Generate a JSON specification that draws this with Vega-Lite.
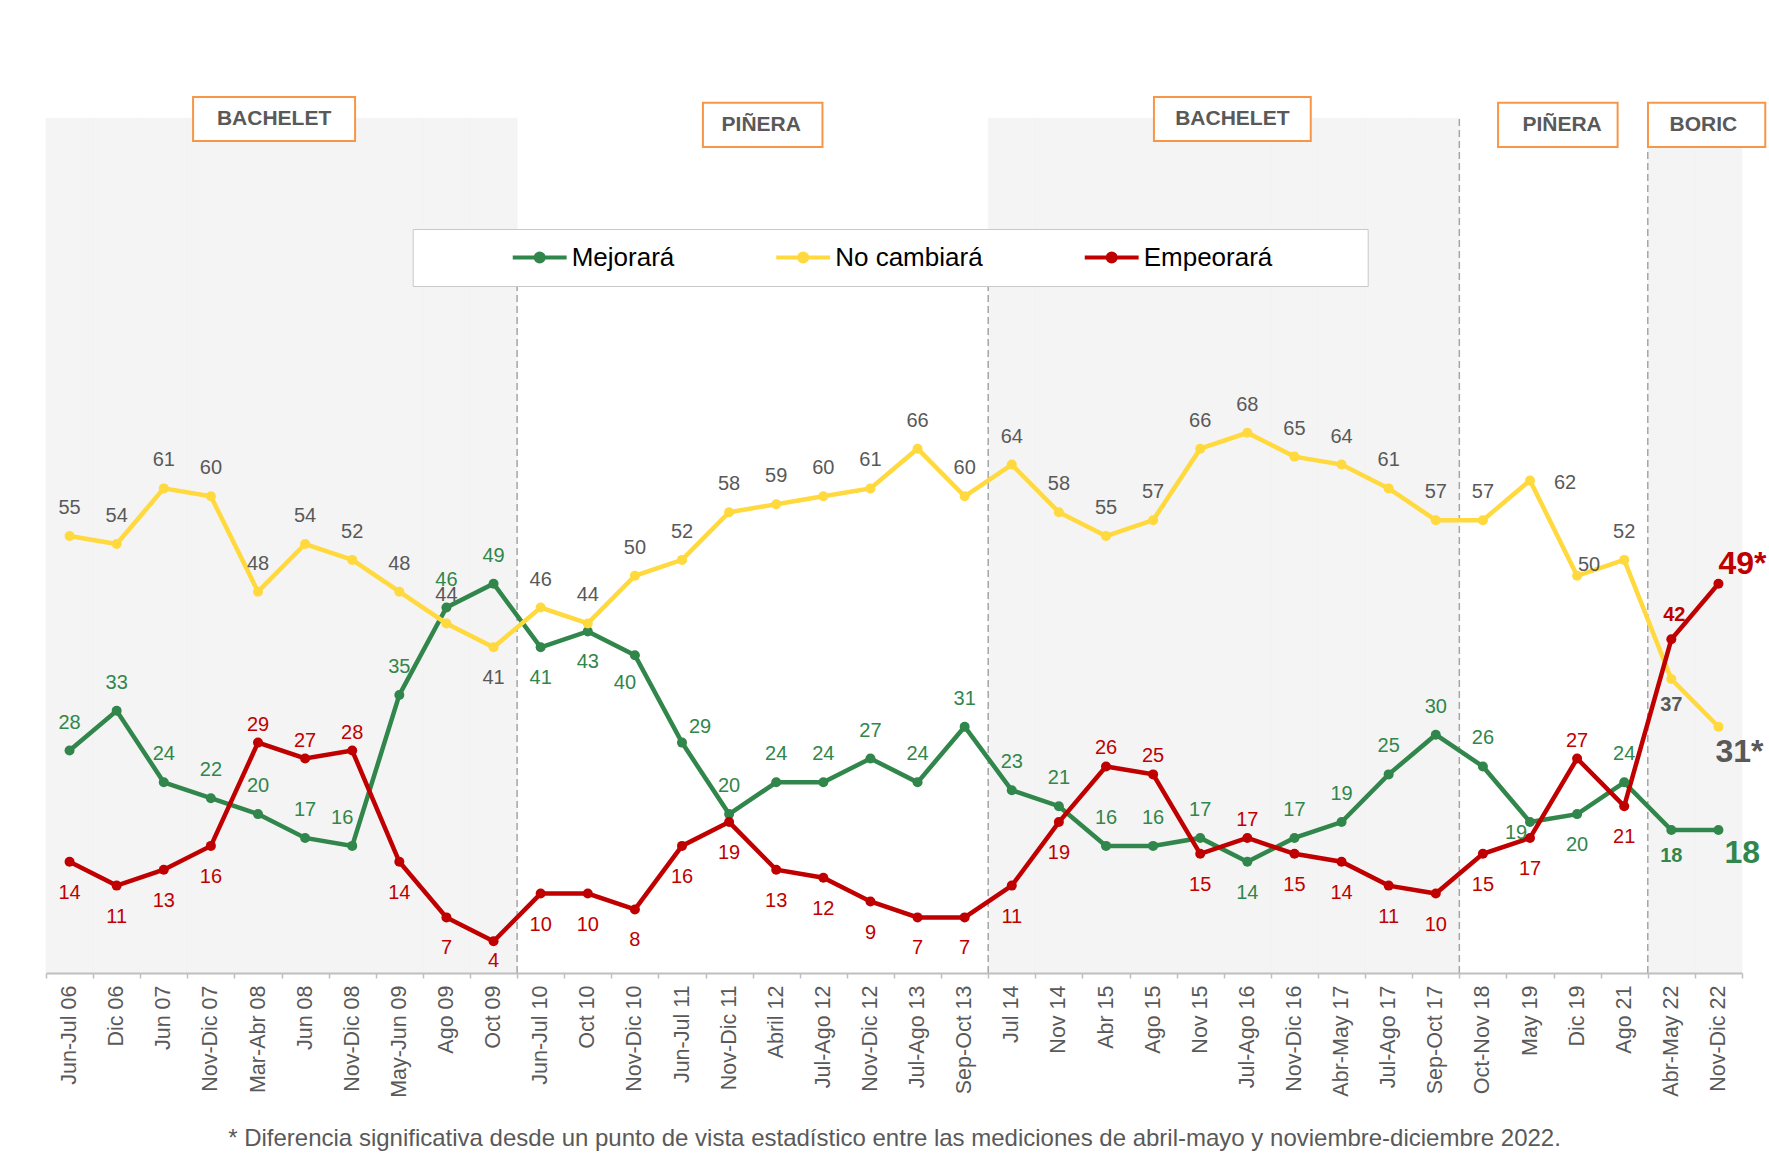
{
  "$schema": "https://vega.github.io/schema/vega-lite/v6.json",
  "width": 1696,
  "height": 858,
  "autosize": {"type": "none"},
  "padding": {"left": 46, "top": 115, "right": 27, "bottom": 184},
  "background": "white",
  "config": {"view": {"stroke": null}, "font": "Liberation Sans"},
  "datasets": {
    "encuesta": [
      {"periodo": "Jun-Jul 06", "serie": "Mejorará", "valor": 28},
      {"periodo": "Dic 06", "serie": "Mejorará", "valor": 33},
      {"periodo": "Jun 07", "serie": "Mejorará", "valor": 24},
      {"periodo": "Nov-Dic 07", "serie": "Mejorará", "valor": 22},
      {"periodo": "Mar-Abr 08", "serie": "Mejorará", "valor": 20},
      {"periodo": "Jun 08", "serie": "Mejorará", "valor": 17},
      {"periodo": "Nov-Dic 08", "serie": "Mejorará", "valor": 16},
      {"periodo": "May-Jun 09", "serie": "Mejorará", "valor": 35},
      {"periodo": "Ago 09", "serie": "Mejorará", "valor": 46},
      {"periodo": "Oct 09", "serie": "Mejorará", "valor": 49},
      {"periodo": "Jun-Jul 10", "serie": "Mejorará", "valor": 41},
      {"periodo": "Oct 10", "serie": "Mejorará", "valor": 43},
      {"periodo": "Nov-Dic 10", "serie": "Mejorará", "valor": 40},
      {"periodo": "Jun-Jul 11", "serie": "Mejorará", "valor": 29},
      {"periodo": "Nov-Dic 11", "serie": "Mejorará", "valor": 20},
      {"periodo": "Abril 12", "serie": "Mejorará", "valor": 24},
      {"periodo": "Jul-Ago 12", "serie": "Mejorará", "valor": 24},
      {"periodo": "Nov-Dic 12", "serie": "Mejorará", "valor": 27},
      {"periodo": "Jul-Ago 13", "serie": "Mejorará", "valor": 24},
      {"periodo": "Sep-Oct 13", "serie": "Mejorará", "valor": 31},
      {"periodo": "Jul 14", "serie": "Mejorará", "valor": 23},
      {"periodo": "Nov 14", "serie": "Mejorará", "valor": 21},
      {"periodo": "Abr 15", "serie": "Mejorará", "valor": 16},
      {"periodo": "Ago 15", "serie": "Mejorará", "valor": 16},
      {"periodo": "Nov 15", "serie": "Mejorará", "valor": 17},
      {"periodo": "Jul-Ago 16", "serie": "Mejorará", "valor": 14},
      {"periodo": "Nov-Dic 16", "serie": "Mejorará", "valor": 17},
      {"periodo": "Abr-May 17", "serie": "Mejorará", "valor": 19},
      {"periodo": "Jul-Ago 17", "serie": "Mejorará", "valor": 25},
      {"periodo": "Sep-Oct 17", "serie": "Mejorará", "valor": 30},
      {"periodo": "Oct-Nov 18", "serie": "Mejorará", "valor": 26},
      {"periodo": "May 19", "serie": "Mejorará", "valor": 19},
      {"periodo": "Dic 19", "serie": "Mejorará", "valor": 20},
      {"periodo": "Ago 21", "serie": "Mejorará", "valor": 24},
      {"periodo": "Abr-May 22", "serie": "Mejorará", "valor": 18},
      {"periodo": "Nov-Dic 22", "serie": "Mejorará", "valor": 18},
      {"periodo": "Jun-Jul 06", "serie": "No cambiará", "valor": 55},
      {"periodo": "Dic 06", "serie": "No cambiará", "valor": 54},
      {"periodo": "Jun 07", "serie": "No cambiará", "valor": 61},
      {"periodo": "Nov-Dic 07", "serie": "No cambiará", "valor": 60},
      {"periodo": "Mar-Abr 08", "serie": "No cambiará", "valor": 48},
      {"periodo": "Jun 08", "serie": "No cambiará", "valor": 54},
      {"periodo": "Nov-Dic 08", "serie": "No cambiará", "valor": 52},
      {"periodo": "May-Jun 09", "serie": "No cambiará", "valor": 48},
      {"periodo": "Ago 09", "serie": "No cambiará", "valor": 44},
      {"periodo": "Oct 09", "serie": "No cambiará", "valor": 41},
      {"periodo": "Jun-Jul 10", "serie": "No cambiará", "valor": 46},
      {"periodo": "Oct 10", "serie": "No cambiará", "valor": 44},
      {"periodo": "Nov-Dic 10", "serie": "No cambiará", "valor": 50},
      {"periodo": "Jun-Jul 11", "serie": "No cambiará", "valor": 52},
      {"periodo": "Nov-Dic 11", "serie": "No cambiará", "valor": 58},
      {"periodo": "Abril 12", "serie": "No cambiará", "valor": 59},
      {"periodo": "Jul-Ago 12", "serie": "No cambiará", "valor": 60},
      {"periodo": "Nov-Dic 12", "serie": "No cambiará", "valor": 61},
      {"periodo": "Jul-Ago 13", "serie": "No cambiará", "valor": 66},
      {"periodo": "Sep-Oct 13", "serie": "No cambiará", "valor": 60},
      {"periodo": "Jul 14", "serie": "No cambiará", "valor": 64},
      {"periodo": "Nov 14", "serie": "No cambiará", "valor": 58},
      {"periodo": "Abr 15", "serie": "No cambiará", "valor": 55},
      {"periodo": "Ago 15", "serie": "No cambiará", "valor": 57},
      {"periodo": "Nov 15", "serie": "No cambiará", "valor": 66},
      {"periodo": "Jul-Ago 16", "serie": "No cambiará", "valor": 68},
      {"periodo": "Nov-Dic 16", "serie": "No cambiará", "valor": 65},
      {"periodo": "Abr-May 17", "serie": "No cambiará", "valor": 64},
      {"periodo": "Jul-Ago 17", "serie": "No cambiará", "valor": 61},
      {"periodo": "Sep-Oct 17", "serie": "No cambiará", "valor": 57},
      {"periodo": "Oct-Nov 18", "serie": "No cambiará", "valor": 57},
      {"periodo": "May 19", "serie": "No cambiará", "valor": 62},
      {"periodo": "Dic 19", "serie": "No cambiará", "valor": 50},
      {"periodo": "Ago 21", "serie": "No cambiará", "valor": 52},
      {"periodo": "Abr-May 22", "serie": "No cambiará", "valor": 37},
      {"periodo": "Nov-Dic 22", "serie": "No cambiará", "valor": 31},
      {"periodo": "Jun-Jul 06", "serie": "Empeorará", "valor": 14},
      {"periodo": "Dic 06", "serie": "Empeorará", "valor": 11},
      {"periodo": "Jun 07", "serie": "Empeorará", "valor": 13},
      {"periodo": "Nov-Dic 07", "serie": "Empeorará", "valor": 16},
      {"periodo": "Mar-Abr 08", "serie": "Empeorará", "valor": 29},
      {"periodo": "Jun 08", "serie": "Empeorará", "valor": 27},
      {"periodo": "Nov-Dic 08", "serie": "Empeorará", "valor": 28},
      {"periodo": "May-Jun 09", "serie": "Empeorará", "valor": 14},
      {"periodo": "Ago 09", "serie": "Empeorará", "valor": 7},
      {"periodo": "Oct 09", "serie": "Empeorará", "valor": 4},
      {"periodo": "Jun-Jul 10", "serie": "Empeorará", "valor": 10},
      {"periodo": "Oct 10", "serie": "Empeorará", "valor": 10},
      {"periodo": "Nov-Dic 10", "serie": "Empeorará", "valor": 8},
      {"periodo": "Jun-Jul 11", "serie": "Empeorará", "valor": 16},
      {"periodo": "Nov-Dic 11", "serie": "Empeorará", "valor": 19},
      {"periodo": "Abril 12", "serie": "Empeorará", "valor": 13},
      {"periodo": "Jul-Ago 12", "serie": "Empeorará", "valor": 12},
      {"periodo": "Nov-Dic 12", "serie": "Empeorará", "valor": 9},
      {"periodo": "Jul-Ago 13", "serie": "Empeorará", "valor": 7},
      {"periodo": "Sep-Oct 13", "serie": "Empeorará", "valor": 7},
      {"periodo": "Jul 14", "serie": "Empeorará", "valor": 11},
      {"periodo": "Nov 14", "serie": "Empeorará", "valor": 19},
      {"periodo": "Abr 15", "serie": "Empeorará", "valor": 26},
      {"periodo": "Ago 15", "serie": "Empeorará", "valor": 25},
      {"periodo": "Nov 15", "serie": "Empeorará", "valor": 15},
      {"periodo": "Jul-Ago 16", "serie": "Empeorará", "valor": 17},
      {"periodo": "Nov-Dic 16", "serie": "Empeorará", "valor": 15},
      {"periodo": "Abr-May 17", "serie": "Empeorará", "valor": 14},
      {"periodo": "Jul-Ago 17", "serie": "Empeorará", "valor": 11},
      {"periodo": "Sep-Oct 17", "serie": "Empeorará", "valor": 10},
      {"periodo": "Oct-Nov 18", "serie": "Empeorará", "valor": 15},
      {"periodo": "May 19", "serie": "Empeorará", "valor": 17},
      {"periodo": "Dic 19", "serie": "Empeorará", "valor": 27},
      {"periodo": "Ago 21", "serie": "Empeorará", "valor": 21},
      {"periodo": "Abr-May 22", "serie": "Empeorará", "valor": 42},
      {"periodo": "Nov-Dic 22", "serie": "Empeorará", "valor": 49}
    ]
  },
  "data": {"name": "encuesta"},
  "encoding": {
    "x": {
      "field": "periodo",
      "type": "nominal",
      "scale": {
        "type": "band",
        "paddingInner": 0,
        "paddingOuter": 0,
        "domain": ["Jun-Jul 06","Dic 06","Jun 07","Nov-Dic 07","Mar-Abr 08","Jun 08","Nov-Dic 08","May-Jun 09","Ago 09","Oct 09","Jun-Jul 10","Oct 10","Nov-Dic 10","Jun-Jul 11","Nov-Dic 11","Abril 12","Jul-Ago 12","Nov-Dic 12","Jul-Ago 13","Sep-Oct 13","Jul 14","Nov 14","Abr 15","Ago 15","Nov 15","Jul-Ago 16","Nov-Dic 16","Abr-May 17","Jul-Ago 17","Sep-Oct 17","Oct-Nov 18","May 19","Dic 19","Ago 21","Abr-May 22","Nov-Dic 22"]
      },
      "axis": {
        "title": "* Diferencia significativa desde un punto de vista estadístico entre las mediciones de abril-mayo y noviembre-diciembre 2022.",
        "titleFont": "Liberation Sans",
        "titleFontSize": 24,
        "titleFontWeight": "normal",
        "titleColor": "#595959",
        "titlePadding": 29,
        "labelAngle": 270,
        "labelAlign": "right",
        "labelBaseline": "middle",
        "labelFont": "Liberation Sans",
        "labelFontSize": 21.5,
        "labelColor": "#595959",
        "labelPadding": 7,
        "labelOverlap": false,
        "labelBound": false,
        "labelLimit": 300,
        "tickBand": "extent",
        "tickSize": 5,
        "tickColor": "#bfbfbf",
        "tickWidth": 1.5,
        "domainColor": "#bfbfbf",
        "domainWidth": 2,
        "grid": false
      }
    },
    "y": {
      "field": "valor",
      "type": "quantitative",
      "scale": {"domain": [0, 108], "nice": false, "zero": true},
      "axis": null
    }
  },
  "layer": [
    {
      "transform": [{"filter": "datum.serie == 'Mejorará' && indexof(['Jun-Jul 06','Dic 06','Jun 07','Nov-Dic 07','Mar-Abr 08','Jun 08','Nov-Dic 08','May-Jun 09','Ago 09','Oct 09','Jul 14','Nov 14','Abr 15','Ago 15','Nov 15','Jul-Ago 16','Nov-Dic 16','Abr-May 17','Jul-Ago 17','Sep-Oct 17','Abr-May 22','Nov-Dic 22'], datum.periodo) >= 0"}],
      "mark": {"type": "rect", "fill": "#f4f4f4", "stroke": "#f4f4f4", "strokeWidth": 0.6},
      "encoding": {
        "y": {"datum": 0, "type": "quantitative"},
        "y2": {"datum": 107.6}
      }
    },
    {
      "transform": [{"filter": "datum.serie == 'Mejorará' && indexof(['Jun-Jul 10','Jul 14'], datum.periodo) >= 0"}],
      "mark": {"type": "rule", "stroke": "#a6a6a6", "strokeWidth": 1.5, "strokeDash": [7, 4]},
      "encoding": {
        "x": {"field": "periodo", "type": "nominal", "bandPosition": 0},
        "y": {"datum": 0, "type": "quantitative"},
        "y2": {"datum": 86.7}
      }
    },
    {
      "transform": [{"filter": "datum.serie == 'Mejorará' && indexof(['Oct-Nov 18','Abr-May 22'], datum.periodo) >= 0"}],
      "mark": {"type": "rule", "stroke": "#a6a6a6", "strokeWidth": 1.5, "strokeDash": [7, 4]},
      "encoding": {
        "x": {"field": "periodo", "type": "nominal", "bandPosition": 0},
        "y": {"datum": 0, "type": "quantitative"},
        "y2": {"datum": 107.6}
      }
    },
    {
      "transform": [{"filter": "datum.serie == 'Mejorará' && indexof(['Jun 08','Abril 12','Jul-Ago 16','Dic 19','Nov-Dic 22'], datum.periodo) >= 0"}],
      "mark": {"type": "point", "filled": true, "fill": "white", "stroke": "#f79646", "strokeWidth": 2, "size": 26244, "opacity": 1},
      "encoding": {
        "y": {"datum": 107.3, "type": "quantitative"},
        "shape": {
          "field": "periodo",
          "type": "nominal",
          "scale": {
            "domain": ["Jun 08", "Abril 12", "Jul-Ago 16", "Dic 19", "Nov-Dic 22"],
            "range": [
              "M-1.383,-0.291L0.617,-0.291L0.617,0.253L-1.383,0.253Z",
              "M-0.905,-0.219L0.571,-0.219L0.571,0.325L-0.905,0.325Z",
              "M-1.153,-0.291L0.783,-0.291L0.783,0.253L-1.153,0.253Z",
              "M-0.976,-0.219L0.500,-0.219L0.500,0.325L-0.976,0.325Z",
              "M-0.870,-0.219L0.578,-0.219L0.578,0.325L-0.870,0.325Z"
            ]
          },
          "legend": null
        }
      }
    },
    {
      "transform": [
        {"filter": "datum.serie == 'Mejorará' && datum.periodo == 'Jun 08'"},
        {"calculate": "'BACHELET'", "as": "presidente"}
      ],
      "mark": {"type": "text", "font": "Liberation Sans", "fontSize": 21, "fontWeight": "bold", "fill": "#595959", "dx": -31, "dy": -2, "baseline": "middle", "align": "center"},
      "encoding": {
        "y": {"datum": 107.3, "type": "quantitative"},
        "text": {"field": "presidente", "type": "nominal"}
      }
    },
    {
      "transform": [
        {"filter": "datum.serie == 'Mejorará' && datum.periodo == 'Jul-Ago 16'"},
        {"calculate": "'BACHELET'", "as": "presidente"}
      ],
      "mark": {"type": "text", "font": "Liberation Sans", "fontSize": 21, "fontWeight": "bold", "fill": "#595959", "dx": -15, "dy": -2, "baseline": "middle", "align": "center"},
      "encoding": {
        "y": {"datum": 107.3, "type": "quantitative"},
        "text": {"field": "presidente", "type": "nominal"}
      }
    },
    {
      "transform": [
        {"filter": "datum.serie == 'Mejorará' && indexof(['Abril 12','Dic 19','Nov-Dic 22'], datum.periodo) >= 0"},
        {"calculate": "datum.periodo == 'Nov-Dic 22' ? 'BORIC' : 'PIÑERA'", "as": "presidente"}
      ],
      "mark": {"type": "text", "font": "Liberation Sans", "fontSize": 21, "fontWeight": "bold", "fill": "#595959", "dx": -15, "dy": 4, "baseline": "middle", "align": "center"},
      "encoding": {
        "y": {"datum": 107.3, "type": "quantitative"},
        "text": {"field": "presidente", "type": "nominal"}
      }
    },
    {
      "mark": {"type": "line", "strokeWidth": 4.5, "point": {"filled": true, "size": 100, "opacity": 1}},
      "encoding": {
        "color": {
          "field": "serie",
          "type": "nominal",
          "scale": {"domain": ["Mejorará", "No cambiará", "Empeorará"], "range": ["#31864b", "#ffd93d", "#c00000"]},
          "legend": {
            "title": "\u00a0",
            "titleOrient": "left",
            "titleFontSize": 1,
            "titlePadding": 98.5,
            "orient": "none",
            "legendX": 366.7,
            "legendY": 114,
            "direction": "horizontal",
            "columns": 3,
            "padding": 15.5,
            "columnPadding": 93.5,
            "strokeColor": "#c8c8c8",
            "fillColor": "white",
            "symbolType": "M-2.45,0L2.45,0M0.364,0A0.364,0.364,0,1,1,-0.364,0A0.364,0.364,0,1,1,0.364,0ZM0.09,0A0.09,0.09,0,1,1,-0.09,0A0.09,0.09,0,1,1,0.09,0Z",
            "symbolSize": 484,
            "symbolStrokeWidth": 4,
            "labelFont": "Liberation Sans",
            "labelFontSize": 26,
            "labelColor": "#000000",
            "labelOffset": 19,
            "labelLimit": 500,
            "labelExpr": "datum.label == 'Empeorará' ? datum.label + '\u00a0\u00a0\u00a0\u00a0\u00a0\u00a0\u00a0\u00a0\u00a0\u00a0\u00a0\u200b' : datum.label"
          }
        }
      }
    },
    {
      "transform": [{"filter": "(datum.serie == 'Mejorará' && indexof(['Nov-Dic 08','Jun-Jul 10','Oct 10','Nov-Dic 10','Jun-Jul 11','Jul-Ago 16','May 19','Dic 19','Abr-May 22','Nov-Dic 22'], datum.periodo) < 0) || (datum.serie == 'No cambiará' && indexof(['Oct 09','May 19','Dic 19','Abr-May 22','Nov-Dic 22'], datum.periodo) < 0)"}],
      "mark": {"type": "text", "font": "Liberation Sans", "fontSize": 20, "baseline": "alphabetic", "align": "center", "dy": -22},
      "encoding": {
        "text": {"field": "valor", "type": "quantitative"},
        "fill": {"field": "serie", "type": "nominal", "scale": {"domain": ["Mejorará", "No cambiará", "Empeorará"], "range": ["#31864b", "#595959", "#c00000"]}, "legend": null}
      }
    },
    {
      "transform": [{"filter": "datum.serie == 'Empeorará' && indexof(['Mar-Abr 08','Jun 08','Nov-Dic 08','Abr 15','Ago 15','Jul-Ago 16','Dic 19'], datum.periodo) >= 0"}],
      "mark": {"type": "text", "font": "Liberation Sans", "fontSize": 20, "baseline": "alphabetic", "align": "center", "dy": -12},
      "encoding": {
        "text": {"field": "valor", "type": "quantitative"},
        "fill": {"field": "serie", "type": "nominal", "scale": {"domain": ["Mejorará", "No cambiará", "Empeorará"], "range": ["#31864b", "#595959", "#c00000"]}, "legend": null}
      }
    },
    {
      "transform": [{"filter": "(datum.serie == 'Mejorará' && indexof(['Jun-Jul 10','Oct 10','Jul-Ago 16','Dic 19'], datum.periodo) >= 0) || (datum.serie == 'No cambiará' && datum.periodo == 'Oct 09') || (datum.serie == 'Empeorará' && indexof(['Mar-Abr 08','Jun 08','Nov-Dic 08','Abr 15','Ago 15','Jul-Ago 16','Dic 19','Oct 09','Abr-May 22','Nov-Dic 22'], datum.periodo) < 0)"}],
      "mark": {"type": "text", "font": "Liberation Sans", "fontSize": 20, "baseline": "alphabetic", "align": "center", "dy": 37},
      "encoding": {
        "text": {"field": "valor", "type": "quantitative"},
        "fill": {"field": "serie", "type": "nominal", "scale": {"domain": ["Mejorará", "No cambiará", "Empeorará"], "range": ["#31864b", "#595959", "#c00000"]}, "legend": null}
      }
    },
    {
      "transform": [{"filter": "datum.serie == 'Mejorará' && datum.periodo == 'Nov-Dic 08'"}],
      "mark": {"type": "text", "font": "Liberation Sans", "fontSize": 20, "baseline": "alphabetic", "align": "center", "dx": -10, "dy": -22, "fill": "#31864b"},
      "encoding": {"text": {"field": "valor", "type": "quantitative"}}
    },
    {
      "transform": [{"filter": "datum.serie == 'Mejorará' && datum.periodo == 'Nov-Dic 10'"}],
      "mark": {"type": "text", "font": "Liberation Sans", "fontSize": 20, "baseline": "alphabetic", "align": "center", "dx": -10, "dy": 34, "fill": "#31864b"},
      "encoding": {"text": {"field": "valor", "type": "quantitative"}}
    },
    {
      "transform": [{"filter": "datum.serie == 'Empeorará' && datum.periodo == 'Oct 09'"}],
      "mark": {"type": "text", "font": "Liberation Sans", "fontSize": 20, "baseline": "alphabetic", "align": "center", "dy": 26, "fill": "#c00000"},
      "encoding": {"text": {"field": "valor", "type": "quantitative"}}
    },
    {
      "transform": [{"filter": "datum.serie == 'Mejorará' && datum.periodo == 'Jun-Jul 11'"}],
      "mark": {"type": "text", "font": "Liberation Sans", "fontSize": 20, "baseline": "alphabetic", "align": "center", "dx": 18, "dy": -10, "fill": "#31864b"},
      "encoding": {"text": {"field": "valor", "type": "quantitative"}}
    },
    {
      "transform": [{"filter": "datum.serie == 'Mejorará' && datum.periodo == 'May 19'"}],
      "mark": {"type": "text", "font": "Liberation Sans", "fontSize": 20, "baseline": "alphabetic", "align": "center", "dx": -14, "dy": 17, "fill": "#31864b"},
      "encoding": {"text": {"field": "valor", "type": "quantitative"}}
    },
    {
      "transform": [{"filter": "datum.serie == 'No cambiará' && datum.periodo == 'May 19'"}],
      "mark": {"type": "text", "font": "Liberation Sans", "fontSize": 20, "baseline": "alphabetic", "align": "center", "dx": 35, "dy": 9, "fill": "#595959"},
      "encoding": {"text": {"field": "valor", "type": "quantitative"}}
    },
    {
      "transform": [{"filter": "datum.serie == 'No cambiará' && datum.periodo == 'Dic 19'"}],
      "mark": {"type": "text", "font": "Liberation Sans", "fontSize": 20, "baseline": "alphabetic", "align": "center", "dx": 12, "dy": -5, "fill": "#595959"},
      "encoding": {"text": {"field": "valor", "type": "quantitative"}}
    },
    {
      "transform": [{"filter": "datum.serie == 'Empeorará' && datum.periodo == 'Abr-May 22'"}],
      "mark": {"type": "text", "font": "Liberation Sans", "fontSize": 20, "fontWeight": "bold", "baseline": "alphabetic", "align": "center", "dx": 3, "dy": -18, "fill": "#c00000"},
      "encoding": {"text": {"field": "valor", "type": "quantitative"}}
    },
    {
      "transform": [{"filter": "datum.serie != 'Empeorará' && datum.periodo == 'Abr-May 22'"}],
      "mark": {"type": "text", "font": "Liberation Sans", "fontSize": 20, "fontWeight": "bold", "baseline": "alphabetic", "align": "center", "dy": 32},
      "encoding": {
        "text": {"field": "valor", "type": "quantitative"},
        "fill": {"field": "serie", "type": "nominal", "scale": {"domain": ["Mejorará", "No cambiará", "Empeorará"], "range": ["#31864b", "#595959", "#c00000"]}, "legend": null}
      }
    },
    {
      "transform": [
        {"filter": "datum.serie == 'Empeorará' && datum.periodo == 'Nov-Dic 22'"},
        {"calculate": "datum.valor + '*'", "as": "etiqueta"}
      ],
      "mark": {"type": "text", "font": "Liberation Sans", "fontSize": 32, "fontWeight": "bold", "baseline": "alphabetic", "align": "left", "dx": 0, "dy": -10, "fill": "#c00000"},
      "encoding": {"text": {"field": "etiqueta", "type": "nominal"}}
    },
    {
      "transform": [
        {"filter": "datum.serie == 'No cambiará' && datum.periodo == 'Nov-Dic 22'"},
        {"calculate": "datum.valor + '*'", "as": "etiqueta"}
      ],
      "mark": {"type": "text", "font": "Liberation Sans", "fontSize": 32, "fontWeight": "bold", "baseline": "alphabetic", "align": "left", "dx": -3, "dy": 35, "fill": "#595959"},
      "encoding": {"text": {"field": "etiqueta", "type": "nominal"}}
    },
    {
      "transform": [{"filter": "datum.serie == 'Mejorará' && datum.periodo == 'Nov-Dic 22'"}],
      "mark": {"type": "text", "font": "Liberation Sans", "fontSize": 32, "fontWeight": "bold", "baseline": "alphabetic", "align": "left", "dx": 6, "dy": 33, "fill": "#31864b"},
      "encoding": {"text": {"field": "valor", "type": "quantitative"}}
    }
  ]
}
